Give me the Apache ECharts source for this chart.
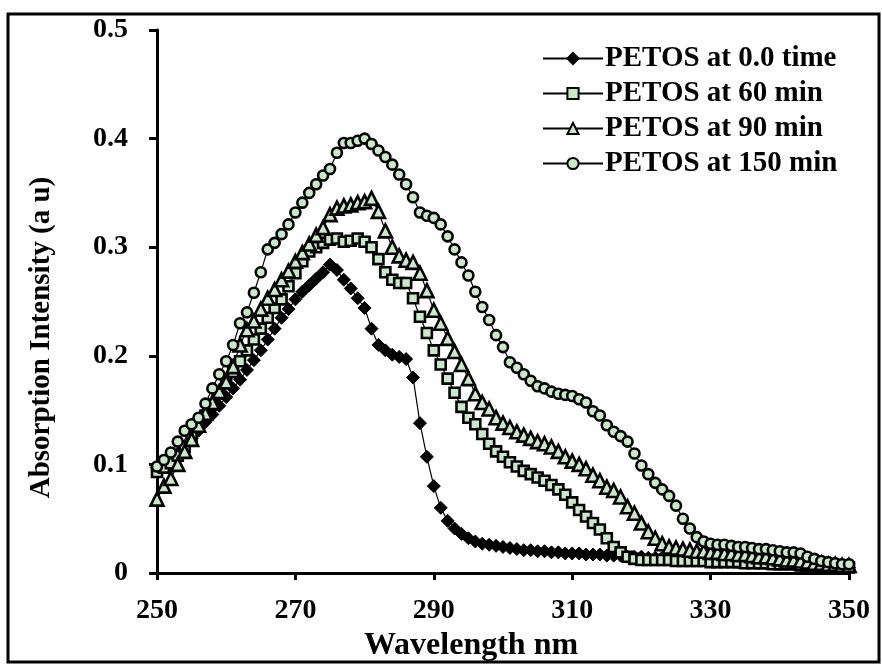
<!DOCTYPE html>
<html>
<head>
<meta charset="utf-8">
<script src="https://cdn.jsdelivr.net/npm/echarts@6/dist/echarts.min.js"></script>
<style>
  html, body { margin: 0; padding: 0; background: #fff; }
  #absChart { width: 882px; height: 667px; }
</style>
</head>
<body>
<div id="absChart"></div>
<script>
// wavelength (nm)
var wavelength = [
  250, 251, 252, 253, 254, 255, 256, 257, 258, 259,
  260, 261, 262, 263, 264, 265, 266, 267, 268, 269,
  270, 271, 272, 273, 274, 275, 276, 277, 278, 279,
  280, 281, 282, 283, 284, 285, 286, 287, 288, 289,
  290, 291, 292, 293, 294, 295, 296, 297, 298, 299,
  300, 301, 302, 303, 304, 305, 306, 307, 308, 309,
  310, 311, 312, 313, 314, 315, 316, 317, 318, 319,
  320, 321, 322, 323, 324, 325, 326, 327, 328, 329,
  330, 331, 332, 333, 334, 335, 336, 337, 338, 339,
  340, 341, 342, 343, 344, 345, 346, 347, 348, 349,
  350
];

var time0 = [
  0.097, 0.100, 0.104, 0.110, 0.117, 0.124, 0.131, 0.139, 0.146, 0.154,
  0.162, 0.170, 0.178, 0.187, 0.196, 0.205, 0.215, 0.225, 0.235, 0.243,
  0.252, 0.259, 0.265, 0.271, 0.277, 0.284, 0.279, 0.270, 0.262, 0.253,
  0.244, 0.225, 0.210, 0.205, 0.201, 0.199, 0.197, 0.180, 0.138, 0.107,
  0.080, 0.060, 0.048, 0.041, 0.036, 0.032, 0.029, 0.027, 0.026, 0.025,
  0.024, 0.023, 0.022, 0.021, 0.021, 0.020, 0.020, 0.019, 0.019, 0.018,
  0.018, 0.018, 0.017, 0.017, 0.017, 0.016, 0.016, 0.016, 0.015, 0.015,
  0.015, 0.014, 0.014, 0.014, 0.013, 0.013, 0.013, 0.012, 0.012, 0.012,
  0.011, 0.011, 0.011, 0.011, 0.010, 0.010, 0.010, 0.009, 0.009, 0.009,
  0.008, 0.008, 0.008, 0.007, 0.007, 0.007, 0.006, 0.006, 0.006, 0.005,
  0.005
];

var min60 = [
  0.093, 0.097, 0.101, 0.108, 0.116, 0.125, 0.135, 0.145, 0.155, 0.165,
  0.175, 0.185, 0.195, 0.205, 0.215, 0.225, 0.235, 0.244, 0.252, 0.264,
  0.276, 0.287, 0.296, 0.300, 0.304, 0.307, 0.308, 0.305, 0.306, 0.308,
  0.305, 0.300, 0.289, 0.277, 0.270, 0.267, 0.267, 0.253, 0.236, 0.221,
  0.205, 0.192, 0.179, 0.166, 0.153, 0.143, 0.137, 0.128, 0.119, 0.112,
  0.107, 0.102, 0.098, 0.094, 0.091, 0.088, 0.085, 0.081, 0.077, 0.072,
  0.065, 0.058, 0.052, 0.046, 0.040, 0.032, 0.024, 0.019, 0.015, 0.013,
  0.012, 0.012, 0.012, 0.012, 0.012, 0.011, 0.011, 0.011, 0.011, 0.011,
  0.010, 0.010, 0.010, 0.010, 0.010, 0.009, 0.009, 0.009, 0.009, 0.008,
  0.008, 0.008, 0.008, 0.007, 0.007, 0.007, 0.006, 0.006, 0.006, 0.005,
  0.005
];

var min90 = [
  0.068, 0.080, 0.087, 0.100, 0.112, 0.123, 0.136, 0.147, 0.157, 0.167,
  0.176, 0.190, 0.210, 0.224, 0.232, 0.243, 0.253, 0.261, 0.270, 0.278,
  0.287, 0.295, 0.303, 0.311, 0.318, 0.330, 0.336, 0.338, 0.339, 0.341,
  0.342, 0.345, 0.333, 0.315, 0.300, 0.292, 0.288, 0.286, 0.276, 0.260,
  0.242, 0.230, 0.216, 0.204, 0.192, 0.179, 0.165, 0.157, 0.151, 0.143,
  0.138, 0.134, 0.130, 0.127, 0.124, 0.121, 0.119, 0.116, 0.112, 0.107,
  0.103, 0.100, 0.096, 0.090, 0.085, 0.079, 0.076, 0.070, 0.061, 0.055,
  0.046, 0.038, 0.032, 0.027, 0.024, 0.023, 0.022, 0.021, 0.020, 0.020,
  0.019, 0.019, 0.018, 0.018, 0.017, 0.017, 0.016, 0.015, 0.015, 0.014,
  0.013, 0.012, 0.012, 0.011, 0.010, 0.009, 0.009, 0.008, 0.008, 0.007,
  0.007
];

var min150 = [
  0.098, 0.104, 0.111, 0.121, 0.131, 0.137, 0.143, 0.156, 0.170, 0.183,
  0.195, 0.210, 0.230, 0.240, 0.258, 0.277, 0.298, 0.304, 0.312, 0.321,
  0.332, 0.341, 0.350, 0.358, 0.366, 0.372, 0.387, 0.396, 0.396, 0.398,
  0.400, 0.395, 0.389, 0.383, 0.376, 0.367, 0.358, 0.346, 0.332, 0.329,
  0.327, 0.321, 0.310, 0.298, 0.286, 0.274, 0.259, 0.245, 0.233, 0.219,
  0.208, 0.194, 0.189, 0.183, 0.177, 0.172, 0.170, 0.167, 0.165, 0.164,
  0.163, 0.160, 0.157, 0.149, 0.145, 0.136, 0.130, 0.126, 0.121, 0.110,
  0.099, 0.091, 0.083, 0.077, 0.071, 0.062, 0.050, 0.041, 0.033, 0.029,
  0.027, 0.026, 0.026, 0.025, 0.024, 0.024, 0.023, 0.022, 0.022, 0.021,
  0.020, 0.019, 0.019, 0.018, 0.015, 0.013, 0.011, 0.010, 0.009, 0.008,
  0.008
];

var seriesNames = ['PETOS at 0.0 time', 'PETOS at 60 min', 'PETOS at 90 min', 'PETOS at 150 min'];

function pairs (ys) {
  var out = [];
  for (var i = 0; i < wavelength.length; i++) {
    out.push([wavelength[i], ys[i]]);
  }
  return out;
}

var chart = echarts.init(document.getElementById('absChart'));
var fontFam = '"Liberation Serif", "DejaVu Serif", serif';
var fill = '#c8e8c8';

function lineSeries (name, ys, symbol, size, color, bw) {
  return {
    name: name,
    type: 'line',
    data: pairs(ys),
    symbol: symbol,
    symbolSize: size,
    showSymbol: true,
    animation: false,
    lineStyle: { color: '#000', width: 1.2 },
    itemStyle: { color: color, borderColor: '#000', borderWidth: bw }
  };
}

var option = {
  animation: false,
  backgroundColor: '#fff',
  grid: { left: 157, right: 33, top: 30, bottom: 94, containLabel: false },
  legend: {
    orient: 'vertical',
    left: 537,
    top: 39,
    itemWidth: 60,
    itemHeight: 14,
    itemGap: 6,
    textStyle: { fontFamily: fontFam, fontWeight: 'bold', fontSize: 29, color: '#000', padding: [0, 0, 0, -3] },
    data: seriesNames
  },
  xAxis: {
    type: 'value',
    min: 250,
    max: 350,
    interval: 20,
    name: 'Wavelength nm',
    nameLocation: 'middle',
    nameGap: 49,
    nameTextStyle: { fontFamily: fontFam, fontWeight: 'bold', fontSize: 32, color: '#000', padding: [0, 64, 0, 0] },
    axisLine: { onZero: false, lineStyle: { color: '#000', width: 3 } },
    axisTick: { inside: false, length: 7, lineStyle: { color: '#000', width: 3 } },
    axisLabel: { fontFamily: fontFam, fontWeight: 'bold', fontSize: 28, color: '#000', margin: 24 },
    splitLine: { show: false }
  },
  yAxis: {
    type: 'value',
    min: 0,
    max: 0.5,
    interval: 0.1,
    name: 'Absorption Intensity (a u)',
    nameLocation: 'middle',
    nameGap: 101,
    nameTextStyle: { fontFamily: fontFam, fontWeight: 'bold', fontSize: 29, color: '#000', padding: [0, 72, 0, 0] },
    axisLine: { onZero: false, lineStyle: { color: '#000', width: 3 } },
    axisTick: { inside: false, length: 8, lineStyle: { color: '#000', width: 3 } },
    axisLabel: {
      fontFamily: fontFam, fontWeight: 'bold', fontSize: 28, color: '#000', margin: 29,
      formatter: function (v) { return v === 0 ? '0' : v.toFixed(1); }
    },
    splitLine: { show: false }
  },
  graphic: [
    {
      type: 'rect',
      shape: { x: 8, y: 14, width: 871, height: 648 },
      style: { fill: 'none', stroke: '#000', lineWidth: 3 },
      silent: true,
      z: 100
    }
  ],
  series: [
    lineSeries(seriesNames[0], time0, 'diamond', 13, '#000', 1),
    lineSeries(seriesNames[1], min60, 'rect', 10, fill, 2.6),
    lineSeries(seriesNames[2], min90, 'triangle', 13, fill, 2.6),
    lineSeries(seriesNames[3], min150, 'circle', 10, fill, 2.6)
  ]
};

chart.setOption(option);
</script>
</body>
</html>
